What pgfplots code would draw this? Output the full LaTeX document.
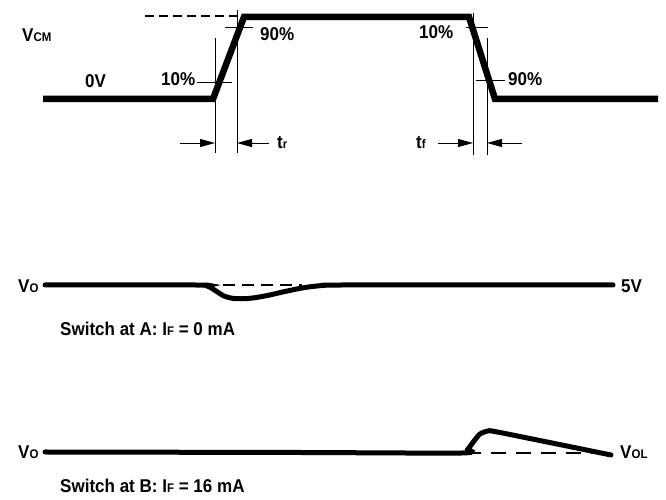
\documentclass[border=0pt]{standalone}
\usepackage{pgfplots}
\pgfplotsset{compat=1.18}
\usetikzlibrary{arrows.meta}
\usepackage{fontspec}
\setmainfont{Liberation Sans}[FakeStretch=0.92]
\newcommand{\lbl}{\fontsize{18.5bp}{20bp}\selectfont\bfseries}
\newcommand{\sub}[1]{{\fontsize{12.5bp}{13bp}\selectfont\bfseries #1}}
\begin{document}
\begin{tikzpicture}
\begin{axis}[
  width=666bp, height=500bp, scale only axis,
  xmin=0, xmax=666, ymin=0, ymax=500, y dir=reverse,
  hide axis, clip=false,
]
% input V_CM pulse
\addplot[black, line width=6.5bp, line join=miter, line cap=butt] coordinates {(43,99)(213,99)(244,17)(469,17)(495,99)(658,99)};
\addplot[black, line width=1.3bp, dash pattern=on 9bp off 5bp] coordinates {(145,16)(237,16)};
% 10% / 90% markers, rise
\addplot[black, line width=0.9bp] coordinates {(215,38)(215,153)};
\addplot[black, line width=0.9bp] coordinates {(237,10)(237,153)};
\addplot[black, line width=0.9bp] coordinates {(197,82)(232,82)};
\addplot[black, line width=0.9bp] coordinates {(225,27)(253,27)};
% fall
\addplot[black, line width=0.9bp] coordinates {(473,13)(473,155)};
\addplot[black, line width=0.9bp] coordinates {(487,38)(487,155)};
\addplot[black, line width=0.9bp] coordinates {(466,27)(488,27)};
\addplot[black, line width=0.9bp] coordinates {(476,80)(505,80)};
% tr / tf arrows
\addplot[black, line width=0.9bp, -{Triangle[length=15bp,width=8bp]}] coordinates {(180,143)(215,143)};
\addplot[black, line width=0.9bp, -{Triangle[length=15bp,width=8bp]}] coordinates {(269,143)(237,143)};
\addplot[black, line width=0.9bp, -{Triangle[length=15bp,width=8bp]}] coordinates {(438,143)(473,143)};
\addplot[black, line width=0.9bp, -{Triangle[length=15bp,width=8bp]}] coordinates {(522,143)(487,143)};
% V_O, switch at A
\addplot[black, line width=5bp, smooth, tension=0.5, line cap=round] coordinates {(45,285)(195,285)(207,286)(216,291)(224,296)(234,298.5)(248,298.5)(265,296)(285,291.5)(305,287.5)(325,285.3)(345,285)(613,285)};
\addplot[black, line width=1.3bp, dash pattern=on 12bp off 7bp] coordinates {(223,285)(302,285)};
% V_O, switch at B
\addplot[black, line width=5bp, smooth, tension=0.4, line cap=round] coordinates {(45,452)(300,452.5)(462,453)(468,449)(474,441)(480,434)(488,431)(500,432.5)(611,455)};
\addplot[black, line width=1.3bp, dash pattern=on 15bp off 10bp] coordinates {(466,453)(600,453)};
% labels
\node[anchor=base west, inner sep=0] at (axis cs:22,42) {\lbl V\sub{CM}};
\node[anchor=base west, inner sep=0] at (axis cs:85,88) {\lbl 0V};
\node[anchor=base west, inner sep=0] at (axis cs:161,86) {\lbl 10\%};
\node[anchor=base west, inner sep=0] at (axis cs:260,41) {\lbl 90\%};
\node[anchor=base west, inner sep=0] at (axis cs:419,39) {\lbl 10\%};
\node[anchor=base west, inner sep=0] at (axis cs:508,86) {\lbl 90\%};
\node[anchor=base west, inner sep=0] at (axis cs:277,149) {\lbl t\sub{r}};
\node[anchor=base west, inner sep=0] at (axis cs:416,149) {\lbl t\sub{f}};
\node[anchor=base west, inner sep=0] at (axis cs:18,293) {\lbl V\sub{O}};
\node[anchor=base west, inner sep=0] at (axis cs:621,293) {\lbl 5V};
\node[anchor=base west, inner sep=0] at (axis cs:60,336) {\lbl Switch at A: I\sub{F} = 0 mA};
\node[anchor=base west, inner sep=0] at (axis cs:18,459) {\lbl V\sub{O}};
\node[anchor=base west, inner sep=0] at (axis cs:620,459) {\lbl V\sub{OL}};
\node[anchor=base west, inner sep=0] at (axis cs:60,493) {\lbl Switch at B: I\sub{F} = 16 mA};
\end{axis}
\pgfresetboundingbox
\path[use as bounding box] (current axis.south west) rectangle (current axis.north east);
\end{tikzpicture}
\end{document}
